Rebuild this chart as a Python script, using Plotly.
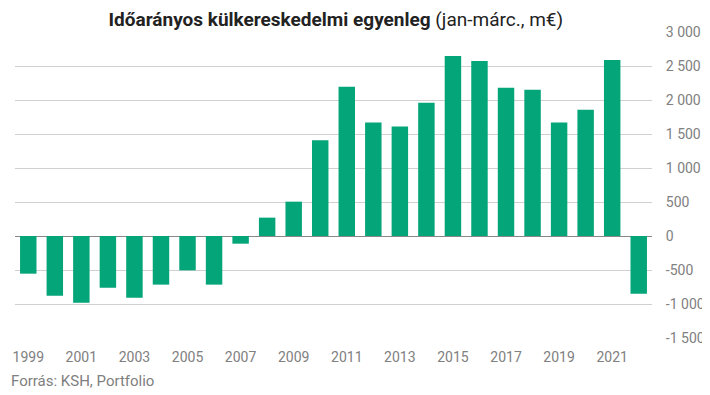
import plotly.graph_objects as go

years = list(range(1999, 2023))
values = [-554, -877, -980, -760, -907, -715, -505, -715, -113, 270, 505, 1407,
          2194, 1668, 1610, 1960, 2646, 2573, 2179, 2150, 1668, 1858, 2588, -851]
y_ticks = [-1500, -1000, -500, 0, 500, 1000, 1500, 2000, 2500, 3000]
y_tick_labels = ["-1 500", "-1 000", "-500", "0", "500", "1 000", "1 500", "2 000", "2 500", "3 000"]

fig = go.Figure(go.Bar(x=years, y=values, marker_color="#05a57a", marker_line_width=0))

# page body has an 8px default margin, so the figure is sized to fit the window
fig.update_layout(
    width=702, height=387,
    margin=dict(l=5, r=56, t=24, b=57),
    paper_bgcolor="white", plot_bgcolor="white",
    bargap=0.38,
    showlegend=False,
    font=dict(family="Roboto", color="#808080", size=13),
    title=dict(
        text="<b>Időarányos külkereskedelmi egyenleg</b> (jan-márc., m€)",
        x=0.467, xanchor="center", y=0.972, yanchor="middle",
        font=dict(family="Roboto", size=19, color="#222222"),
    ),
    annotations=[dict(
        text="Forrás: KSH, Portfolio", xref="paper", yref="paper",
        x=-0.01, y=-0.105, xanchor="left", yanchor="top", showarrow=False,
        font=dict(size=15, color="#808080"),
    )],
)
fig.update_xaxes(
    range=[1998.5, 2022.5], tick0=1999, dtick=2, showgrid=False,
    zeroline=False, showline=False, ticks="outside", ticklen=6, tickcolor="white",
    tickfont=dict(size=14, color="#808080"),
)
fig.update_yaxes(
    side="right", range=[-1500, 3000], tickvals=y_ticks, ticktext=y_tick_labels,
    showgrid=True, gridcolor="#d0d0d0", gridwidth=1,
    zeroline=True, zerolinecolor="#888888", zerolinewidth=1,
    ticks="outside", ticklen=10, tickcolor="white",
    tickfont=dict(size=14, color="#808080"),
)
fig.write_html("out.html")
